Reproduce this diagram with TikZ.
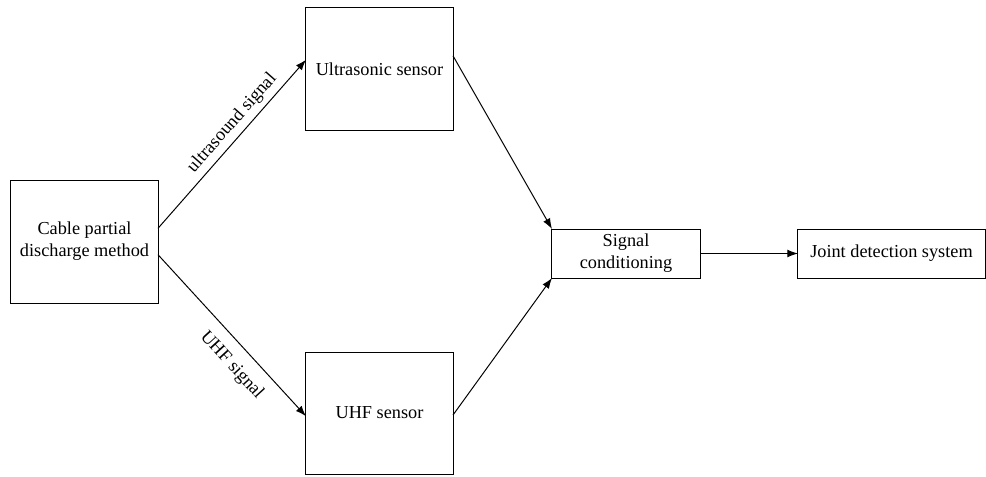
\documentclass[tikz,border=0pt]{standalone}
\usepackage{fontspec}
\setmainfont{Liberation Serif}
\usetikzlibrary{arrows.meta,positioning,calc}

\begin{document}
\begin{tikzpicture}[
  x=0.025cm, y=-0.025cm,
  blockbox/.style={
    rectangle, draw=black, line width=0.7pt,
    inner sep=0pt, outer sep=0pt,
    font=\fontsize{13}{15.5}\selectfont,
    align=center
  },
  conn/.style={-{Latex[length=7.5pt,width=5.5pt]}, line width=0.7pt},
  siglabel/.style={font=\fontsize{13}{15.5}\selectfont, sloped}
]
\useasboundingbox (0,0) rectangle (986,476);

\node[blockbox, minimum width=3.675cm, minimum height=3.075cm] (cable) at (84.5,241.5)
  {Cable partial\\discharge method};
\node[blockbox, minimum width=3.675cm, minimum height=3.05cm] (ultra) at (379.5,69)
  {Ultrasonic sensor};
\node[blockbox, minimum width=3.675cm, minimum height=3.05cm] (uhf) at (379.5,413)
  {UHF sensor};
\node[blockbox, minimum width=3.7cm, minimum height=1.225cm] (cond) at (626,253.5)
  {Signal\\conditioning};
\node[blockbox, minimum width=4.675cm, minimum height=1.225cm] (joint) at (891.5,253.5)
  {Joint detection system};

\draw[conn] ([yshift=0.33cm]cable.east) -- node[siglabel, above, pos=0.57] {ultrasound signal}
  ([yshift=0.23cm]ultra.west);
\draw[conn] ([yshift=-0.33cm]cable.east) -- node[siglabel, below=5pt, pos=0.6] {UHF signal}
  ([yshift=-0.08cm]uhf.west);

\draw[conn] ([yshift=0.33cm]ultra.east) -- (cond.north west);
\draw[conn] ([yshift=-0.05cm]uhf.east) -- (cond.south west);
\draw[conn] (cond) -- (joint);
\end{tikzpicture}
\end{document}
